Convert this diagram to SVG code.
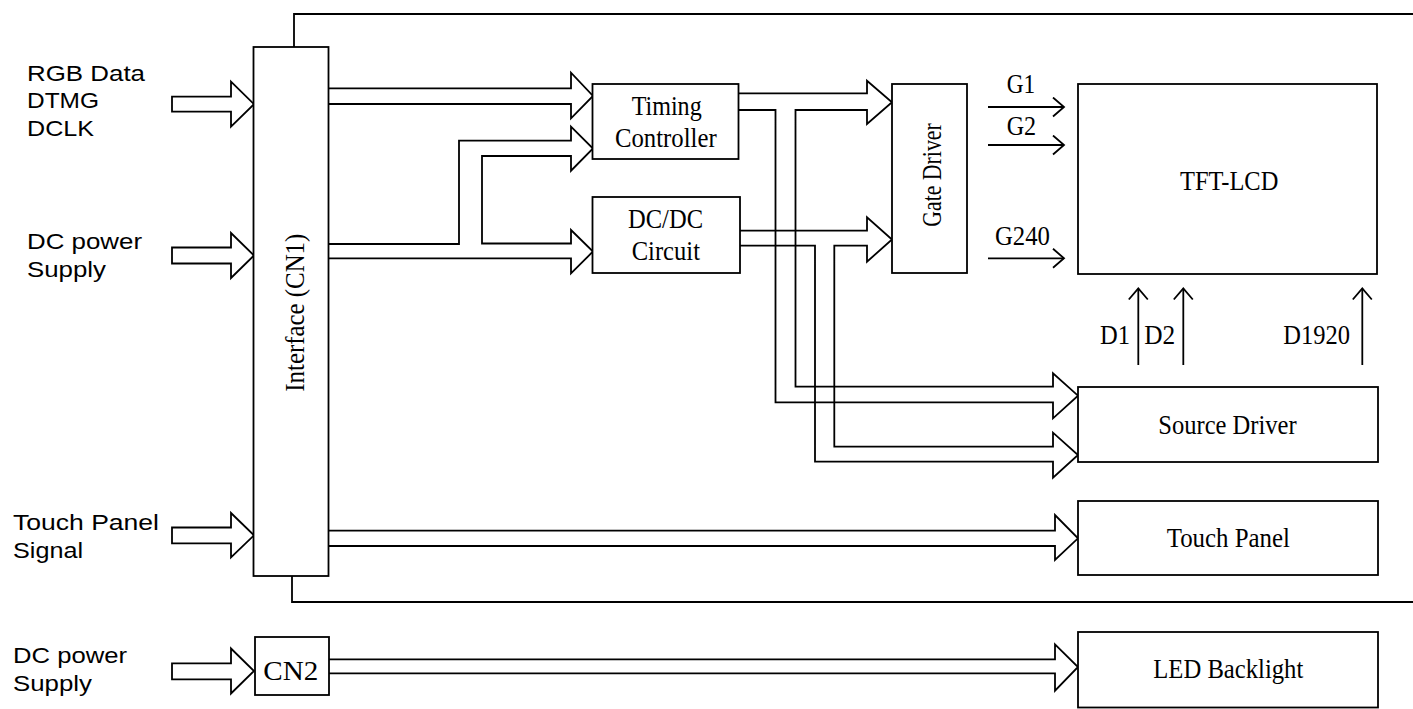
<svg xmlns="http://www.w3.org/2000/svg" width="1413" height="709" viewBox="0 0 1413 709">
<defs>
<marker id="vhead" markerUnits="userSpaceOnUse" markerWidth="14" markerHeight="22" refX="12" refY="10" orient="auto">
<path d="M1,0.5 L12,10 L1,19.5" fill="none" stroke="#000" stroke-width="1.8"/>
</marker>
</defs>
<style>
rect.box{fill:#fff;stroke:#000;stroke-width:1.8}
.bus{fill:none;stroke:#000;stroke-width:1.8;stroke-linejoin:miter}
.inarrow{fill:#fff;stroke:#000;stroke-width:1.8}
.line{fill:none;stroke:#000;stroke-width:1.8}
.sig{fill:none;stroke:#000;stroke-width:1.8;marker-end:url(#vhead)}
.serif{font-family:"Liberation Serif","Times New Roman",serif;font-size:28px;fill:#000}
.sans{font-family:"Liberation Sans",Arial,sans-serif;font-size:22px;fill:#000}
</style>
<rect width="1413" height="709" fill="#fff"/>

<g id="connectors">
<path class="line" d="M294,47 V14 H1413"/>
<path class="line" d="M292,576 V602 H1413"/>
<polygon class="inarrow" points="172,96.7 231,96.7 231,81.7 254,104.2 231,126.7 231,111.7 172,111.7"/>
<polygon class="inarrow" points="172,247.5 231,247.5 231,233 254,255.5 231,278 231,263.5 172,263.5"/>
<polygon class="inarrow" points="172,527.5 231,527.5 231,513 254,535.3 231,557.5 231,543.3 172,543.3"/>
<polygon class="inarrow" points="172,663.3 231,663.3 231,648.5 254,671 231,693.5 231,679.3 172,679.3"/>
<path class="bus" d="M329,88.3 H571 V72.7 L593,96 L571,118.3 V104 H329"/>
<path class="bus" d="M329,244 H459 V140.7 H571 V126.7 L593,148.5 L571,170.7 V156 H482 V243.5 H571 V230 L593,251.5 L571,273.3 V258.3 H329"/>
<path class="bus" d="M738,93.3 H867 V80.7 L892,102.3 L867,124 V110 H795.5 V386.7 H1053 V373.3 L1078,395.7 L1053,418.3 V402.3 H775.5 V110 H738"/>
<path class="bus" d="M740,230.7 H867 V217.3 L892,239.5 L867,261.7 V245.7 H834.3 V446.7 H1053 V432.7 L1078,455 L1053,477.7 V461.7 H815 V245.7 H740"/>
<path class="bus" d="M329,530.7 H1055 V515 L1078,538.3 L1055,560 V546 H329"/>
<path class="bus" d="M329,659.3 H1055 V644.3 L1078,667 L1055,690.7 V673.3 H329"/>
<path class="sig" d="M988,107 H1064"/>
<path class="sig" d="M988,145 H1064"/>
<path class="sig" d="M988,258.3 H1064"/>
<path class="sig" d="M1138.3,365 V288.5"/>
<path class="sig" d="M1183.3,365 V288.5"/>
<path class="sig" d="M1362.3,365 V288.5"/>
<text class="serif" x="1006.7" y="93.3" textLength="28.5" lengthAdjust="spacingAndGlyphs">G1</text>
<text class="serif" x="1006.7" y="135" textLength="29.5" lengthAdjust="spacingAndGlyphs">G2</text>
<text class="serif" x="995" y="245" textLength="55" lengthAdjust="spacingAndGlyphs">G240</text>
<text class="serif" x="1100" y="344" textLength="30" lengthAdjust="spacingAndGlyphs">D1</text>
<text class="serif" x="1144.3" y="344" textLength="31" lengthAdjust="spacingAndGlyphs">D2</text>
<text class="serif" x="1283.3" y="344" textLength="66.7" lengthAdjust="spacingAndGlyphs">D1920</text>
</g>

<g id="labels-inputs">
<text class="sans" x="27" y="80.7" textLength="118" lengthAdjust="spacingAndGlyphs">RGB Data</text>
<text class="sans" x="27" y="108.3" textLength="72" lengthAdjust="spacingAndGlyphs">DTMG</text>
<text class="sans" x="27" y="136" textLength="67" lengthAdjust="spacingAndGlyphs">DCLK</text>
<text class="sans" x="27" y="249" textLength="115" lengthAdjust="spacingAndGlyphs">DC power</text>
<text class="sans" x="27" y="277" textLength="79" lengthAdjust="spacingAndGlyphs">Supply</text>
<text class="sans" x="13" y="530" textLength="146" lengthAdjust="spacingAndGlyphs">Touch Panel</text>
<text class="sans" x="13" y="557.7" textLength="70" lengthAdjust="spacingAndGlyphs">Signal</text>
<text class="sans" x="13" y="662.7" textLength="114" lengthAdjust="spacingAndGlyphs">DC power</text>
<text class="sans" x="13" y="690.7" textLength="79" lengthAdjust="spacingAndGlyphs">Supply</text>
</g>

<g id="interface">
<rect class="box" x="253.5" y="47" width="75" height="529"/>
<text class="serif" transform="translate(303.5,391.7) rotate(-90)" x="0" y="0" textLength="158" lengthAdjust="spacingAndGlyphs">Interface (CN1)</text>
</g>

<g id="cn2">
<rect class="box" x="255" y="637" width="74" height="58"/>
<text class="serif" x="263.3" y="680" textLength="55" lengthAdjust="spacingAndGlyphs">CN2</text>
</g>

<g id="timing-controller">
<rect class="box" x="592.5" y="84" width="146" height="75"/>
<text class="serif" x="631.7" y="115" textLength="70" lengthAdjust="spacingAndGlyphs">Timing</text>
<text class="serif" x="615" y="147.3" textLength="101.7" lengthAdjust="spacingAndGlyphs">Controller</text>
</g>

<g id="dcdc-circuit">
<rect class="box" x="592.5" y="197" width="147.5" height="76"/>
<text class="serif" x="628" y="228.3" textLength="75" lengthAdjust="spacingAndGlyphs">DC/DC</text>
<text class="serif" x="631.7" y="260" textLength="68.3" lengthAdjust="spacingAndGlyphs">Circuit</text>
</g>

<g id="gate-driver">
<rect class="box" x="892" y="84" width="75" height="189"/>
<text class="serif" transform="translate(940.5,226.7) rotate(-90)" x="0" y="0" textLength="103.4" lengthAdjust="spacingAndGlyphs">Gate Driver</text>
</g>

<g id="tft-lcd">
<rect class="box" x="1078" y="84" width="299" height="190"/>
<text class="serif" x="1180" y="190" textLength="98.3" lengthAdjust="spacingAndGlyphs">TFT-LCD</text>
</g>

<g id="source-driver">
<rect class="box" x="1078" y="387" width="300" height="75"/>
<text class="serif" x="1158.3" y="434.3" textLength="138.4" lengthAdjust="spacingAndGlyphs">Source Driver</text>
</g>

<g id="touch-panel">
<rect class="box" x="1078" y="501" width="300" height="74"/>
<text class="serif" x="1166.7" y="547.3" textLength="123.3" lengthAdjust="spacingAndGlyphs">Touch Panel</text>
</g>

<g id="led-backlight">
<rect class="box" x="1078" y="632" width="300" height="75.5"/>
<text class="serif" x="1153.3" y="678.3" textLength="150" lengthAdjust="spacingAndGlyphs">LED Backlight</text>
</g>
</svg>
